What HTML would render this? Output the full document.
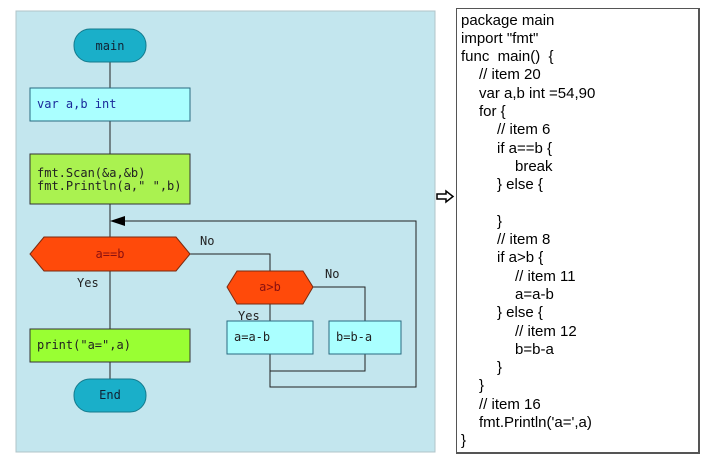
<!DOCTYPE html>
<html><head><style>
body{margin:0;width:715px;height:462px;background:#fff;overflow:hidden;position:relative;font-family:"Liberation Sans",sans-serif}
.code{position:absolute;left:456px;top:8px;width:244px;height:446px;border:1px solid #555;border-right-width:2px;border-bottom-width:2px;box-sizing:border-box}
.code div{position:absolute;font-size:15px;line-height:18px;white-space:pre;color:#000}
</style></head><body>
<svg width="715" height="462" style="position:absolute;left:0;top:0" font-family="DejaVu Sans Mono, Liberation Mono, monospace">
<rect x="16" y="11" width="419" height="441" fill="#c3e6ee" stroke="#b0c4c8"/>
<g stroke="#222" stroke-width="1" fill="none">
<line x1="110" y1="62" x2="110" y2="88"/>
<line x1="110" y1="121" x2="110" y2="154"/>
<line x1="110" y1="204" x2="110" y2="237"/>
<line x1="110" y1="271" x2="110" y2="329"/>
<line x1="110" y1="362" x2="110" y2="379"/>
<polyline points="190,254 270,254 270,271"/>
<polyline points="313,287 365,287 365,321"/>
<line x1="270" y1="304" x2="270" y2="321"/>
<polyline points="270,354 270,387 416,387 416,221 118,221"/>
<polyline points="365,354 365,371 270,371"/>
</g>
<polygon points="110,221 125,216 125,226" fill="#000"/>
<rect x="74" y="29" width="72" height="33" rx="16" fill="#1aafc9" stroke="#157a8c"/>
<text x="110" y="50" font-size="12" text-anchor="middle" fill="#123">main</text>
<rect x="30" y="88" width="160" height="33" fill="#aaffff" stroke="#2a6a80"/>
<text x="37" y="108" font-size="12" fill="#1a2a9a">var a,b int</text>
<rect x="30" y="154" width="160" height="50" fill="#aaf250" stroke="#333"/>
<text x="37" y="177" font-size="12" fill="#222">fmt.Scan(&amp;a,&amp;b)</text>
<text x="37" y="190" font-size="12" fill="#222">fmt.Println(a," ",b)</text>
<polygon points="44,237 176,237 190,254 176,271 44,271 30,254" fill="#ff4a0a" stroke="#7a2a10"/>
<text x="110" y="258" font-size="12" text-anchor="middle" fill="#8a1010">a==b</text>
<polygon points="237,271 303,271 313,287 303,304 237,304 227,287" fill="#ff4a0a" stroke="#7a2a10"/>
<text x="270" y="291" font-size="12" text-anchor="middle" fill="#8a1010">a&gt;b</text>
<rect x="227" y="321" width="86" height="33" fill="#aaffff" stroke="#2a6a80"/>
<text x="234" y="341" font-size="12" fill="#222">a=a-b</text>
<rect x="329" y="321" width="72" height="33" fill="#aaffff" stroke="#2a6a80"/>
<text x="336" y="341" font-size="12" fill="#222">b=b-a</text>
<rect x="30" y="329" width="160" height="33" fill="#99ff33" stroke="#333"/>
<text x="37" y="349" font-size="12" fill="#222">print("a=",a)</text>
<rect x="74" y="379" width="72" height="33" rx="16" fill="#1aafc9" stroke="#157a8c"/>
<text x="110" y="399" font-size="12" text-anchor="middle" fill="#123">End</text>
<g font-size="12" fill="#222">
<text x="200" y="245">No</text>
<text x="77" y="287">Yes</text>
<text x="325" y="278">No</text>
<text x="238" y="320">Yes</text>
</g>
<polygon points="437,194 446,194 446,191 453,196.5 446,202 446,199 437,199" fill="#fff" stroke="#000" stroke-width="1.5"/>
</svg>
<div class="code">
<div style="left:4px;top:3px">package main</div>
<div style="left:4px;top:21px">import "fmt"</div>
<div style="left:4px;top:39px">func  main()  {</div>
<div style="left:22px;top:57px">// item 20</div>
<div style="left:22px;top:76px">var a,b int =54,90</div>
<div style="left:22px;top:94px">for {</div>
<div style="left:40px;top:112px">// item 6</div>
<div style="left:40px;top:131px">if a==b {</div>
<div style="left:58px;top:149px">break</div>
<div style="left:40px;top:167px">} else {</div>
<div style="left:40px;top:204px">}</div>
<div style="left:40px;top:222px">// item 8</div>
<div style="left:40px;top:240px">if a&gt;b {</div>
<div style="left:58px;top:259px">// item 11</div>
<div style="left:58px;top:277px">a=a-b</div>
<div style="left:40px;top:295px">} else {</div>
<div style="left:58px;top:314px">// item 12</div>
<div style="left:58px;top:332px">b=b-a</div>
<div style="left:40px;top:350px">}</div>
<div style="left:22px;top:368px">}</div>
<div style="left:22px;top:387px">// item 16</div>
<div style="left:22px;top:405px">fmt.Println('a=',a)</div>
<div style="left:4px;top:423px">}</div>
</div>
</body></html>
